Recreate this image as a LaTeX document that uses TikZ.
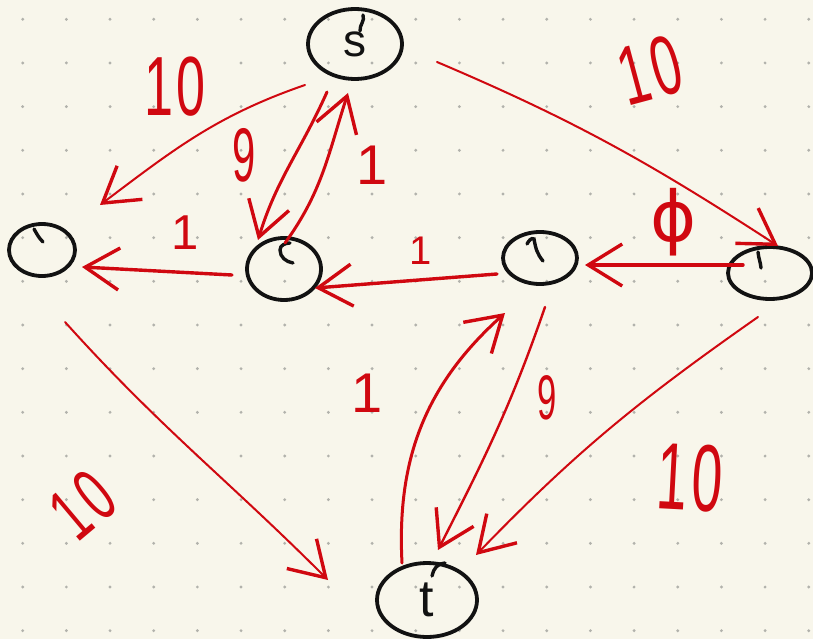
\documentclass[tikz,border=0pt]{standalone}
\usepackage{graphicx}
\usepackage{fontspec}
\setmainfont{Liberation Sans}
\newfontfamily\greekfont{DejaVu Sans}
\usetikzlibrary{shapes.geometric,arrows.meta}
\definecolor{paper}{RGB}{248,246,235}
\definecolor{griddot}{RGB}{178,178,172}
\definecolor{ink}{RGB}{18,18,18}
\definecolor{pen}{RGB}{208,8,16}
\newcommand{\fsz}[1]{\fontsize{#1}{#1}\selectfont}
% narrow a capacity label horizontally
\newcommand{\narrow}[2]{\scalebox{#1}[1]{#2}}
\begin{document}
\begin{tikzpicture}[x=1pt,y=1pt,
  vertex/.style={ellipse, draw=ink, line width=3.8pt, inner sep=0pt, text=ink},
  flow/.style={draw=pen, line width=3pt, line cap=round, line join=round,
    -{Straight Barb[length=34pt,width=42pt,line width=3.4pt]}},
  thin flow/.style={flow, line width=2pt},
  lbl/.style={text=pen, inner sep=0pt},
  hook/.style={draw=ink, line width=3.4pt, line cap=round}
]
% paper and dot grid
\fill[paper] (0,0) rectangle (813,-639);
\useasboundingbox (0,0) rectangle (813,-639);
\foreach \i in {0,...,18} \foreach \j in {0,...,14}
  \fill[griddot] (22.7+43.67*\i, -19.3-43.67*\j) circle (1.6);

% vertices
\node[vertex, minimum width=94, minimum height=70] (s) at (355,-44) {\fsz{46}s};
\node[vertex, minimum width=66, minimum height=52] (a) at (42,-250) {};
\node[vertex, minimum width=74, minimum height=62] (b) at (284,-269) {};
\node[vertex, minimum width=74, minimum height=52] (c) at (540,-258) {};
\node[vertex, minimum width=84, minimum height=52] (d) at (770,-273) {};
\node[vertex, minimum width=100, minimum height=74] (t) at (427,-600) {\fsz{52}t};

% pen-start hooks on the vertex outlines
\draw[hook] (360,-31) to[out=95,in=-70] (363,-15);
\draw[hook] (43,-242) to[out=135,in=-60] (34,-229);
\draw[hook] (293,-263) to[out=170,in=-90] (280,-250) to[out=90,in=180] (290,-243);
\draw[hook] (527,-244) to[out=60,in=150] (534,-239) to[out=-80,in=130] (543,-261);
\draw[hook] (758,-252) to[out=-85,in=95] (761,-268);
\draw[hook] (432,-576) to[out=80,in=180] (445,-563);

% flows
\draw[thin flow] ([shift={(-50,-41)}]s.center) to[out=199,in=37] ([shift={(58,45)}]a.center);
\draw[flow] ([shift={(-28,-48)}]s.center) to[out=246,in=73] ([shift={(-26,29)}]b.center);
\draw[flow] ([shift={(1,26)}]b.center) to[out=54,in=252] ([shift={(-7,-49)}]s.center);
\draw[flow, line width=3.4pt] ([shift={(-52,-6)}]b.center) -- ([shift={(40,-17)}]a.center);
\draw[flow, line width=3.4pt] ([shift={(-43,-16)}]c.center) -- ([shift={(31,-19)}]b.center);
\draw[flow, line width=3.4pt] ([shift={(-27,8)}]d.center) -- ([shift={(45,-7)}]c.center);
\draw[thin flow] ([shift={(82,-18)}]s.center) to[out=-23,in=147] ([shift={(8,27)}]d.center);
\draw[thin flow] ([shift={(23,-72)}]a.center) to[out=-48,in=135] ([shift={(-99,20)}]t.center);
\draw[flow] ([shift={(-25,37)}]t.center) to[out=93,in=222] ([shift={(-35,-55)}]c.center);
\draw[flow, line width=2.4pt] ([shift={(5,-49)}]c.center) to[out=251,in=63] ([shift={(11,50)}]t.center);
\draw[thin flow] ([shift={(-12,-44)}]d.center) to[out=215,in=46] ([shift={(49,45)}]t.center);

% capacities
\node[lbl, font={\fsz{84}}] (w1) at (175,-87) {\narrow{0.62}{1\kern6pt0}};
\node[lbl, font={\fsz{76}}] (w2) at (244,-155) {\narrow{0.55}{9}};
\node[lbl, font={\fsz{56}}] (w3) at (372,-165) {1};
\node[lbl, font={\fsz{49}}] (w4) at (185,-233) {1};
\node[lbl, font={\fsz{40}}] (w5) at (421,-251) {1};
\node[lbl, font={\greekfont\fsz{70}}] (w6) at (674,-222) {ϕ};
\node[lbl, font={\fsz{84}}, rotate=15] (w7) at (650,-70) {\narrow{0.62}{1\kern8pt0}};
\node[lbl, font={\fsz{76}}, rotate=40] (w8) at (83,-505) {\narrow{0.62}{1\kern8pt0}};
\node[lbl, font={\fsz{56}}] (w9) at (367,-393) {1};
\node[lbl, font={\fsz{63}}] (w10) at (547,-398) {\narrow{0.55}{9}};
\node[lbl, font={\fsz{95}}, rotate=-3] (w11) at (690,-478) {\narrow{0.58}{1\kern6pt0}};
\end{tikzpicture}
\end{document}
